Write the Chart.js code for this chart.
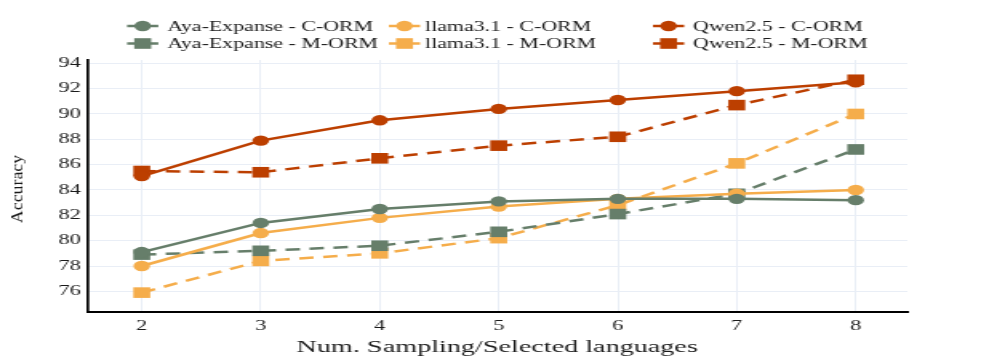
<!DOCTYPE html>
<html>
<head>
<meta charset="utf-8">
<script src="https://cdn.jsdelivr.net/npm/chart.js@4.4.1/dist/chart.umd.min.js"></script>
<style>
  body { margin: 0; background: #fff; }
  #wrap { width: 623px; height: 360px; transform: scaleX(1.6003); transform-origin: 0 0; }
</style>
</head>
<body>
<div id="wrap"><canvas id="myChart"></canvas></div>
<script>
const numLangs = [2, 3, 4, 5, 6, 7, 8];
const yTicks = [76, 78, 80, 82, 84, 86, 88, 90, 92, 94];

const ayaC = [79.1, 81.4, 82.5, 83.1, 83.3, 83.3, 83.2];
const llamaC = [78.0, 80.6, 81.8, 82.7, 83.3, 83.7, 84.0];
const qwenC = [85.1, 87.9, 89.5, 90.4, 91.1, 91.8, 92.5];
const ayaM = [78.9, 79.2, 79.6, 80.7, 82.1, 83.7, 87.2];
const llamaM = [75.9, 78.4, 79.0, 80.2, 82.8, 86.1, 90.0];
const qwenM = [85.5, 85.4, 86.5, 87.5, 88.2, 90.7, 92.7];

const AYA = '#667e6a', LLAMA = '#f5ad4b', QWEN = '#bc3f00';
const FONT = '"Liberation Serif", "DejaVu Serif", serif';

function pts(arr) {
  return arr.map((v, i) => ({ x: numLangs[i], y: v }));
}

function series(label, arr, color, dashed) {
  return {
    label: label,
    data: pts(arr),
    borderColor: color,
    backgroundColor: color,
    borderWidth: 2.5,
    borderDash: dashed ? [9, 6] : [],
    pointStyle: dashed ? 'rect' : 'circle',
    pointRadius: dashed ? 7.5 : 5.2,
    pointBorderWidth: 0,
    pointHoverRadius: dashed ? 7.5 : 5.2,
    tension: 0,
    clip: false
  };
}

const datasets = [
  series('Aya-Expanse - C-ORM', ayaC, AYA, false),
  series('llama3.1 - C-ORM', llamaC, LLAMA, false),
  series('Qwen2.5 - C-ORM', qwenC, QWEN, false),
  series('Aya-Expanse - M-ORM', ayaM, AYA, true),
  series('llama3.1 - M-ORM', llamaM, LLAMA, true),
  series('Qwen2.5 - M-ORM', qwenM, QWEN, true)
];

// legend + axis titles drawn by hand (3 columns x 2 rows)
const extras = {
  id: 'extras',
  afterDraw(chart) {
    const ctx = chart.ctx;
    const colX = [79.4, 243, 408];
    const textX = [104.4, 265.6, 433];
    const rowY = [26, 43.5];
    ctx.save();
    datasets.forEach((ds, i) => {
      const c = i % 3, r = Math.floor(i / 3);
      const x0 = colX[c], x1 = colX[c] + 19.5, y = rowY[r];
      ctx.strokeStyle = ds.borderColor;
      ctx.fillStyle = ds.borderColor;
      ctx.lineWidth = 2.5;
      ctx.setLineDash([]);
      ctx.beginPath();
      ctx.moveTo(x0, y);
      ctx.lineTo(x1, y);
      ctx.stroke();
      const cx = (x0 + x1) / 2;
      ctx.beginPath();
      if (ds.pointStyle === 'rect') {
        ctx.rect(cx - 5.3, y - 5.3, 10.6, 10.6);
      } else {
        ctx.arc(cx, y, 5.2, 0, Math.PI * 2);
      }
      ctx.fill();
      ctx.fillStyle = '#1a1a1a';
      ctx.font = '13.7px ' + FONT;
      ctx.textAlign = 'left';
      ctx.textBaseline = 'middle';
      ctx.fillText(ds.label, textX[c], y + 1);
    });

    // x title
    ctx.fillStyle = '#1a1a1a';
    ctx.font = '17.6px ' + FONT;
    ctx.textAlign = 'center';
    ctx.textBaseline = 'middle';
    ctx.fillText('Num. Sampling/Selected languages', 310.7, 347);

    // y title (tall, narrow)
    ctx.translate(11.5, 189);
    ctx.rotate(-Math.PI / 2);
    ctx.scale(1.62, 1);
    ctx.font = '11px ' + FONT;
    ctx.fillText('Accuracy', 0, 0);
    ctx.restore();
  }
};

const ctx = document.getElementById('myChart');

new Chart(ctx, {
  type: 'line',
  data: { datasets: datasets },
  options: {
    responsive: true,
    maintainAspectRatio: false,
    animation: false,
    layout: { padding: { top: 60, right: 56, left: 0, bottom: 0 } },
    scales: {
      x: {
        type: 'linear',
        min: 1.543,
        max: 8.434,
        afterBuildTicks: s => { s.ticks = numLangs.map(v => ({ value: v })); },
        afterFit: s => { s.height = 48; },
        grid: { color: '#e9eef6', lineWidth: 1, drawTicks: false },
        border: { display: true, color: '#000', width: 2 },
        ticks: { padding: 6, color: '#1a1a1a', font: { family: FONT, size: 14 } }
      },
      y: {
        min: 74.37,
        max: 94.26,
        afterBuildTicks: s => { s.ticks = yTicks.map(v => ({ value: v })); },
        afterFit: s => { s.width = 54.6; },
        grid: { color: '#e9eef6', lineWidth: 1, drawTicks: false },
        border: { display: true, color: '#000', width: 1.7 },
        ticks: { padding: 4, color: '#1a1a1a', font: { family: FONT, size: 14 } }
      }
    },
    plugins: {
      legend: { display: false },
      tooltip: { enabled: false }
    }
  },
  plugins: [extras]
});
</script>
</body>
</html>
